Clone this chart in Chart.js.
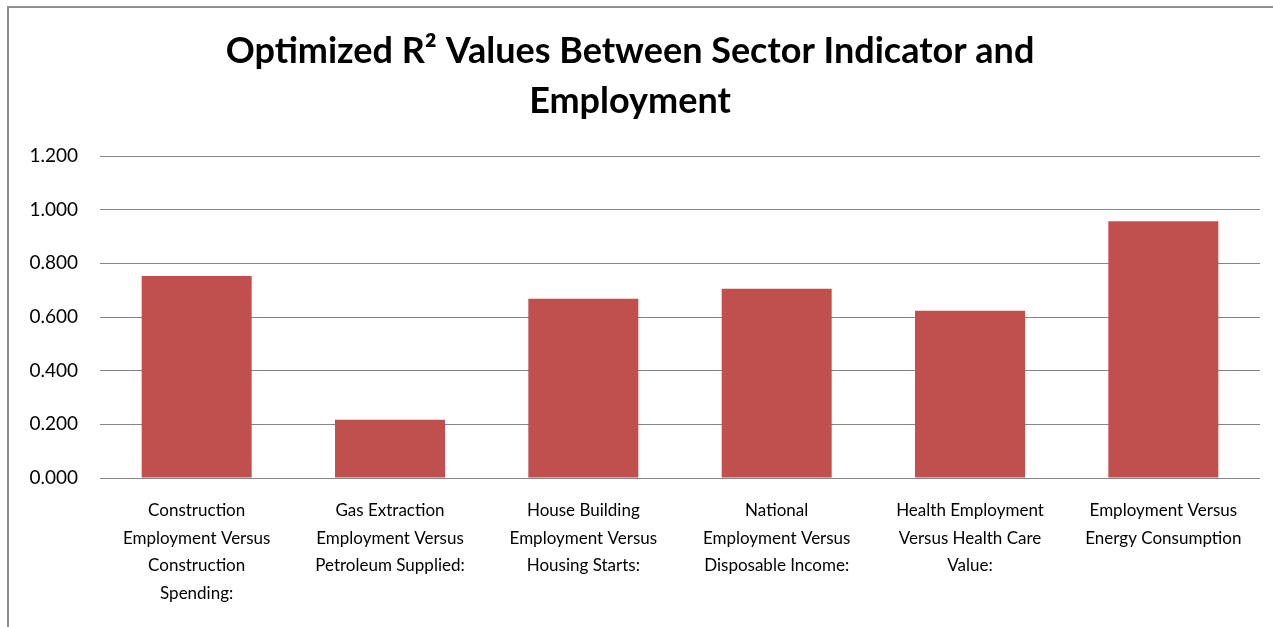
<!DOCTYPE html>
<html>
<head>
<meta charset="utf-8">
<script src="https://cdn.jsdelivr.net/npm/chart.js@4.4.1/dist/chart.umd.min.js"></script>
<style>
  html, body { margin: 0; padding: 0; background: #fff; overflow: hidden; }
  #frame { position: absolute; left: 7px; top: 6px; width: 1300px; height: 700px;
           border-left: 2px solid #8e8e8e; border-top: 2px solid #8e8e8e; }
  #wrap { position: absolute; left: 0; top: 0; width: 1273px; height: 627px; }
</style>
</head>
<body>
<div id="frame"></div>
<div id="wrap"><canvas id="c" width="1273" height="627"></canvas></div>
<script>
const titleLines = ["Optimized R\u00B2 Values Between Sector Indicator and", "Employment"];
const categories = [
  ["Construction", "Employment Versus", "Construction", "Spending:"],
  ["Gas Extraction", "Employment Versus", "Petroleum Supplied:"],
  ["House Building", "Employment Versus", "Housing Starts:"],
  ["National", "Employment Versus", "Disposable Income:"],
  ["Health Employment", "Versus Health Care", "Value:"],
  ["Employment Versus", "Energy Consumption"]
];
const rSquared = [0.753, 0.217, 0.668, 0.705, 0.623, 0.957];
const yTicks = [0, 0.2, 0.4, 0.6, 0.8, 1.0, 1.2];

new Chart(document.getElementById('c'), {
  type: 'bar',
  data: {
    labels: categories,
    datasets: [{
      label: 'R²',
      data: rSquared,
      backgroundColor: '#C0504D',
      borderWidth: 0,
      categoryPercentage: 1.0,
      barPercentage: 0.569
    }]
  },
  options: {
    responsive: false,
    animation: false,
    devicePixelRatio: 1,
    layout: { padding: { left: 0, right: 13, top: 0, bottom: 0 } },
    plugins: {
      legend: { display: false },
      tooltip: { enabled: false },
      title: {
        display: true,
        text: titleLines,
        color: '#000',
        font: { family: 'Lato', size: 36, weight: 'bold', lineHeight: 1.389 },
        padding: { top: 26, bottom: 30 }
      }
    },
    scales: {
      x: {
        grid: { display: false, drawTicks: false },
        border: { display: false },
        ticks: {
          color: '#000',
          font: { family: 'Lato', size: 17, lineHeight: 1.62 },
          padding: 19,
          maxRotation: 0,
          autoSkip: false
        },
        afterFit(scale) { scale.height = 149; }
      },
      y: {
        min: 0,
        max: 1.2,
        afterBuildTicks(scale) { scale.ticks = yTicks.map(v => ({ value: v })); },
        grid: { color: '#868686', lineWidth: 1, drawTicks: false },
        border: { display: false },
        ticks: {
          color: '#000',
          font: { family: 'Lato', size: 19 },
          padding: 22,
          callback: v => Number(v).toFixed(3)
        },
        afterFit(scale) { scale.width = 100; }
      }
    }
  }
});
</script>
</body>
</html>
